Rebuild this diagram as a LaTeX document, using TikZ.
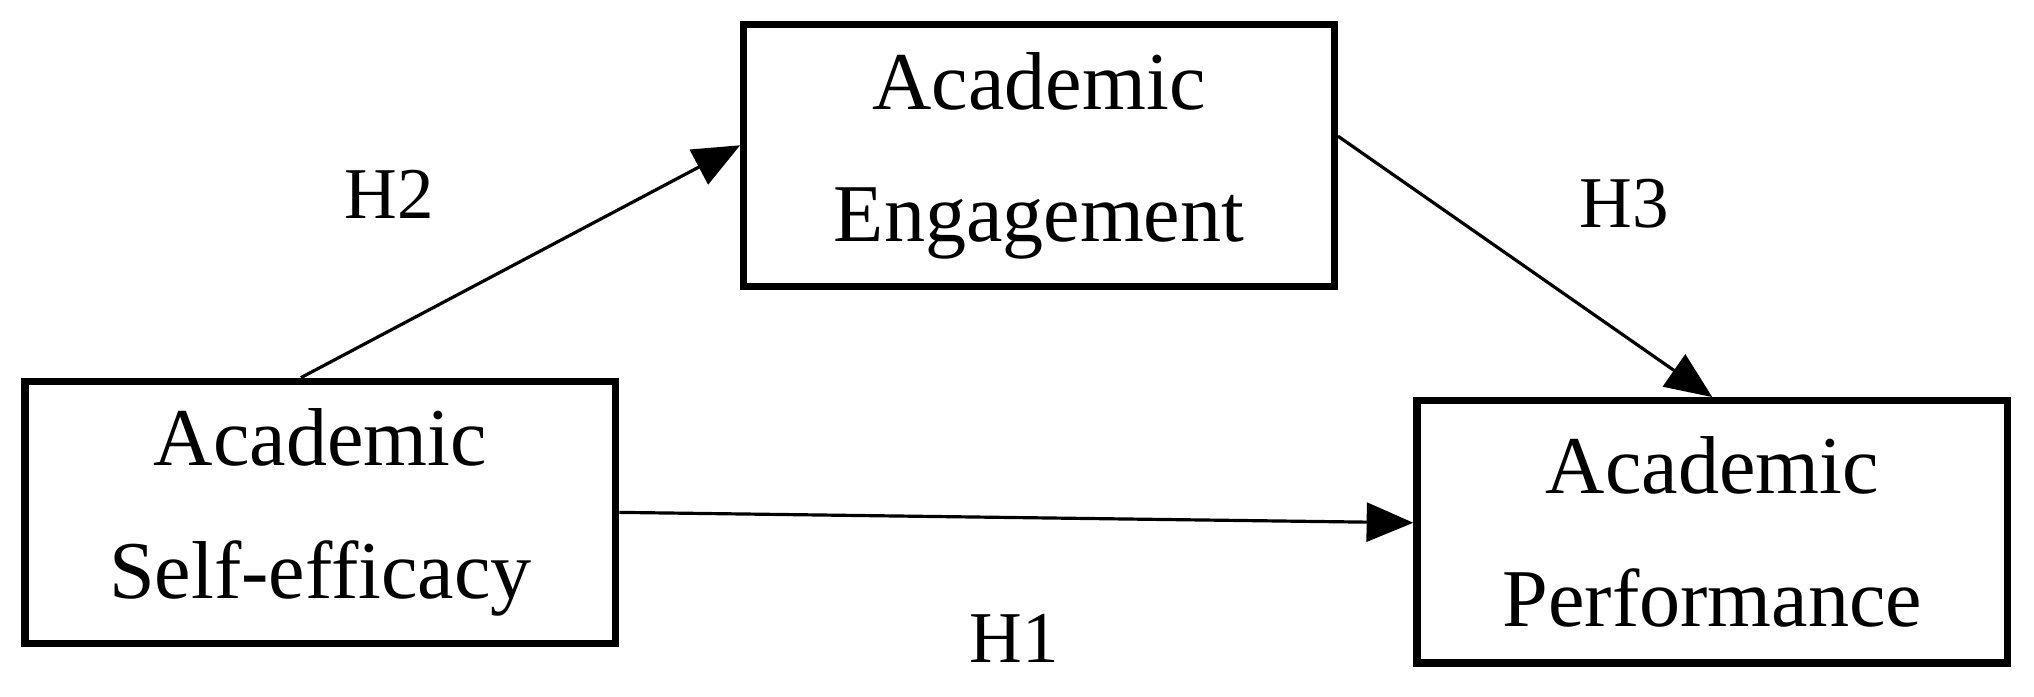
\documentclass[tikz,border=0pt]{standalone}
\usepackage{fontspec}
\setmainfont{Liberation Serif}
\usetikzlibrary{positioning,arrows.meta}
\tikzset{%
  block/.style = {draw, line width=1.6pt, rectangle, minimum width=4.55cm,
    minimum height=2.02cm, align=center, font=\fontsize{18}{29}\selectfont},
  link/.style  = {line width=0.7pt, -{Triangle[length=0.36cm, width=0.3cm]}},
  hyp/.style   = {font=\fontsize{16}{20}\selectfont}
}
\begin{document}
\begin{tikzpicture}[x=0.01cm, y=-0.01cm]
  \useasboundingbox (0,0) rectangle (1568,537);

  \node at (247,395) [block] (self) {Academic\\Self-efficacy};
  \node at (801,120) [block] (eng) {Academic\\Engagement};
  \node at (1320,410) [block] (perf) {Academic\\Performance};

  \node at (300,150) [hyp] (h2) {H2};
  \node at (1252,157) [hyp] (h3) {H3};
  \node at (782,492) [hyp] (h1) {H1};

  \draw[link] ([xshift=-0.15cm]self.north) -- ([yshift=0.08cm]eng.west);
  \draw[link] ([yshift=0.15cm]eng.east) -- (perf.north);
  \draw[link] (self.east) -- ([yshift=0.07cm]perf.west);
\end{tikzpicture}
\end{document}
